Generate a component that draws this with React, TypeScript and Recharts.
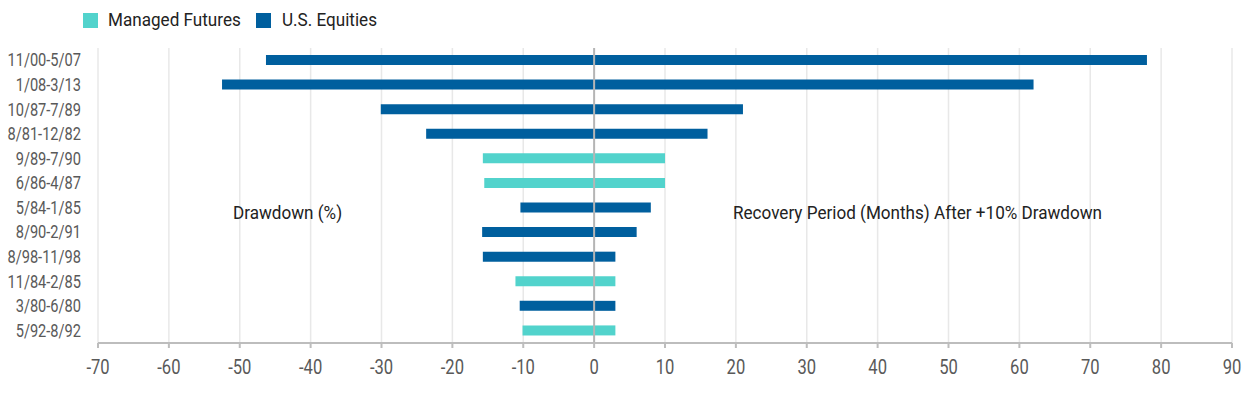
import React from "react";
import {
  BarChart,
  Bar,
  Cell,
  XAxis,
  YAxis,
  CartesianGrid,
  ReferenceLine,
} from "recharts";

const periods = [
  "11/00-5/07",
  "1/08-3/13",
  "10/87-7/89",
  "8/81-12/82",
  "9/89-7/90",
  "6/86-4/87",
  "5/84-1/85",
  "8/90-2/91",
  "8/98-11/98",
  "11/84-2/85",
  "3/80-6/80",
  "5/92-8/92",
];

const drawdown = [-46.3, -52.5, -30.1, -23.7, -15.7, -15.5, -10.4, -15.8, -15.7, -11.1, -10.5, -10.1];
const recovery = [78, 62, 21, 16, 10, 10, 8, 6, 3, 3, 3, 3];
const group = ["eq", "eq", "eq", "eq", "mf", "mf", "eq", "eq", "eq", "mf", "eq", "mf"];

const xTicks = [-70, -60, -50, -40, -30, -20, -10, 0, 10, 20, 30, 40, 50, 60, 70, 80, 90];

const TEAL = "#52d3cc";
const BLUE = "#005f9e";
const FONT = "Roboto, sans-serif";
const TEXT = "#595959";
const SX = 0.79; // squeeze Roboto toward the condensed face of the original
const SX_LABEL = 0.95;

const data = periods.map((p, i) => ({
  period: p,
  drawdown: drawdown[i],
  recovery: recovery[i],
  group: group[i],
}));

function YTick({ x, y, payload }: any) {
  return (
    <text
      transform={`translate(${x},${y}) scale(${SX},1)`}
      textAnchor="end"
      dominantBaseline="central"
      fill={TEXT}
      fontSize={18.5}
      fontFamily={FONT}
    >
      {payload.value}
    </text>
  );
}

function XTick({ x, y, payload }: any) {
  return (
    <text
      transform={`translate(${x},${y + 19}) scale(${SX},1)`}
      textAnchor="middle"
      dominantBaseline="central"
      fill={TEXT}
      fontSize={21}
      fontFamily={FONT}
    >
      {payload.value}
    </text>
  );
}

function Squeezed({ children, left, top }: any) {
  return (
    <div
      style={{
        position: "absolute",
        left,
        top,
        fontFamily: FONT,
        fontSize: 18,
        lineHeight: "22px",
        color: "#222",
        whiteSpace: "nowrap",
        transform: `scaleX(${SX_LABEL})`,
        transformOrigin: "0 0",
      }}
    >
      {children}
    </div>
  );
}

function Legend() {
  return (
    <>
      <div style={{ position: "absolute", left: 83, top: 13, width: 15, height: 15, background: TEAL }} />
      <Squeezed left={108} top={9}>Managed Futures</Squeezed>
      <div style={{ position: "absolute", left: 256, top: 13, width: 15, height: 15, background: BLUE }} />
      <Squeezed left={282} top={9}>U.S. Equities</Squeezed>
    </>
  );
}

export default function App() {
  const colorOf = (g: string) => (g === "mf" ? TEAL : BLUE);
  return (
    <div style={{ position: "absolute", left: 0, top: 0, width: 1258, height: 394, background: "#fff" }}>
      <BarChart
        width={1258}
        height={394}
        data={data}
        layout="vertical"
        stackOffset="sign"
        margin={{ top: 48, right: 26, bottom: 21, left: 8 }}
        barSize={10}
      >
        <CartesianGrid horizontal={false} stroke="#e8e8e8" strokeWidth={1.5} />
        <XAxis
          type="number"
          domain={[-70, 90]}
          ticks={xTicks}
          allowDataOverflow
          height={30}
          tick={<XTick />}
          tickSize={5}
          tickMargin={0}
          axisLine={{ stroke: "#bdbdbd", strokeWidth: 2 }}
          tickLine={{ stroke: "#bdbdbd", strokeWidth: 2 }}
        />
        <YAxis
          type="category"
          dataKey="period"
          width={90}
          axisLine={false}
          tickLine={false}
          tickSize={0}
          tickMargin={17}
          interval={0}
          tick={<YTick />}
        />
        <Bar dataKey="drawdown" stackId="a" isAnimationActive={false}>
          {data.map((d, i) => (
            <Cell key={i} fill={colorOf(d.group)} />
          ))}
        </Bar>
        <Bar dataKey="recovery" stackId="a" isAnimationActive={false}>
          {data.map((d, i) => (
            <Cell key={i} fill={colorOf(d.group)} />
          ))}
        </Bar>
        <ReferenceLine x={0} stroke="#b5b5b5" strokeWidth={2} />
      </BarChart>
      <Legend />
      <Squeezed left={233} top={202}>Drawdown (%)</Squeezed>
      <Squeezed left={733} top={202}>Recovery Period (Months) After +10% Drawdown</Squeezed>
    </div>
  );
}
